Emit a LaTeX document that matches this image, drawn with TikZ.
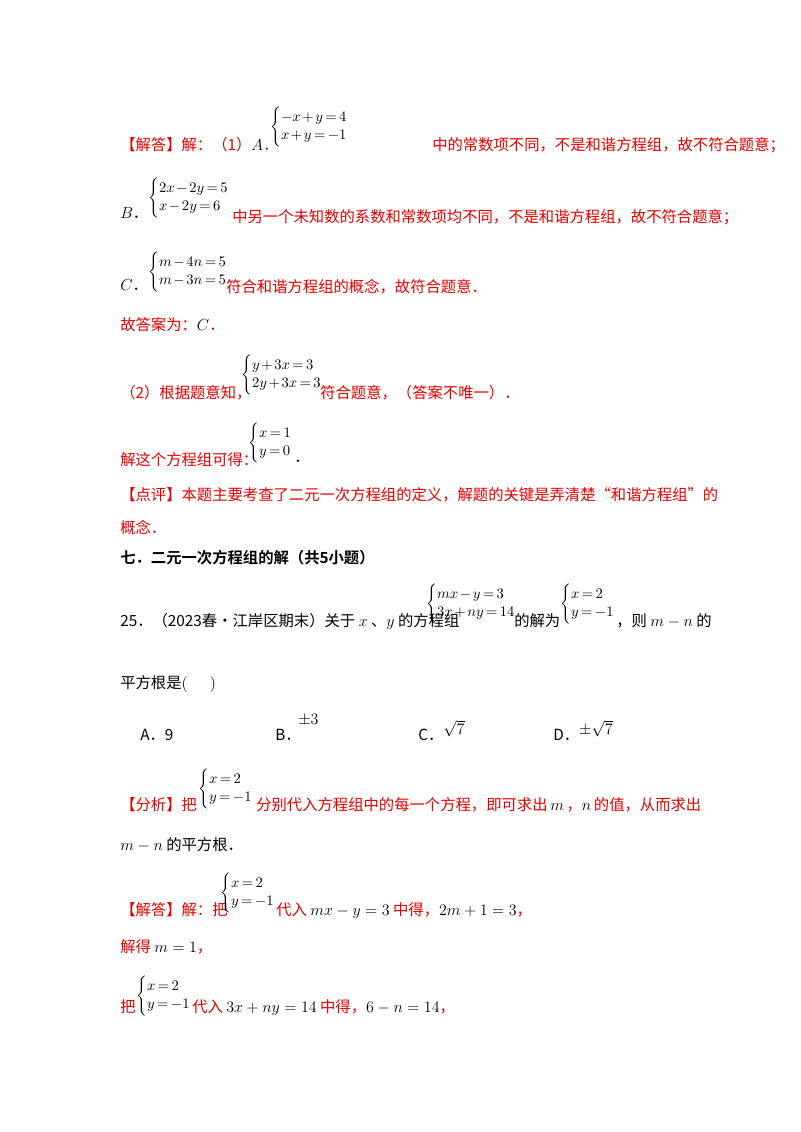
\documentclass[tikz,border=0pt]{standalone}
\usepackage{fontspec}
\setmainfont{Liberation Serif}
\newfontfamily\cjk{Noto Sans CJK SC}
\newfontfamily\cjkb{Noto Sans CJK SC Bold}
\definecolor{ansred}{RGB}{228,0,0}
\newcommand{\mysys}[2]{\medmuskip=2mu\thickmuskip=3mu$\left\{\begin{array}{@{}l@{}}#1\\[1pt]#2\end{array}\right.$}
\tikzset{
 t/.style={anchor=base west,inner sep=0pt,font=\fontsize{11.5}{14}\selectfont\cjk},
 r/.style={t,text=ansred},
 s/.style={anchor=west,inner sep=0pt,font=\fontsize{10.5}{13}\selectfont},
}
\begin{document}
\begin{tikzpicture}[x=0.75pt,y=-0.75pt]
\useasboundingbox (0,0) rectangle (800,1132);
\node[r] (a1) at (120,150) {【解答】解：（1）\textcolor{black}{$A$}．};
\node[s] (a2) at (270,127) {\mysys{-x+y=4}{x+y=-1}};
\node[r] (a3) at (432,150) {中的常数项不同，不是和谐方程组，故不符合题意；};
\node[t] (b1) at (120,218) {$B$．};
\node[s] (b2) at (148,198) {\mysys{2x-2y=5}{x-2y=6}};
\node[r] (b3) at (232,222) {中另一个未知数的系数和常数项均不同，不是和谐方程组，故不符合题意；};
\node[t] (c1) at (120,290) {$C$．};
\node[s] (c2) at (148,272) {\mysys{m-4n=5}{m-3n=5}};
\node[r] (c3) at (226,292) {符合和谐方程组的概念，故符合题意．};
\node[r] (d1) at (120,330) {故答案为：\textcolor{black}{$C$}．};
\node[r] (e1) at (120,398) {（2）根据题意知，};
\node[s] (e2) at (241,375) {\mysys{y+3x=3}{2y+3x=3}};
\node[r] (e3) at (320,398) {符合题意，（答案不唯一）．};
\node[r] (f1) at (120,465) {解这个方程组可得：};
\node[s] (f2) at (248,443) {\mysys{x=1}{y=0}};
\node[t] (f3) at (294,462) {．};
\node[r] (g1) at (120,500) {【点评】本题主要考查了二元一次方程组的定义，解题的关键是弄清楚“和谐方程组”的};
\node[r] (g2) at (120,533) {概念．};
\node[t,font=\fontsize{11.5}{14}\selectfont\cjkb] (h1) at (120,563) {七．二元一次方程组的解（共5小题）};
\node[t] (q1) at (120,626) {25．（2023春•江岸区期末）关于 $x$ 、$y$ 的方程组};
\node[s] (q2) at (426,604) {\mysys{mx-y=3}{3x+ny=14}};
\node[t] (q3) at (514,626) {的解为};
\node[s] (q4) at (560,604) {\mysys{x=2}{y=-1}};
\node[t] (q5) at (616,626) {，则 $m-n$ 的};
\node[t] (q6) at (120,688) {平方根是$($\quad\ \ $)$};
\node[t] (o1) at (140,740) {A．9};
\node[t] (o2) at (275,740) {B．};
\node[t] (o2b) at (298,724) {$\pm3$};
\node[t] (o3) at (418,740) {C．\raisebox{4pt}{$\sqrt7$}};
\node[t] (o4) at (553,740) {D．\raisebox{4pt}{$\pm\sqrt7$}};
\node[r] (p1) at (120,810) {【分析】把};
\node[s] (p2) at (198,789) {\mysys{x=2}{y=-1}};
\node[r] (p3) at (256,810) {分别代入方程组中的每一个方程，即可求出\textcolor{black}{$\,m\,$}，\textcolor{black}{$n\,$}的值，从而求出};
\node[t] (p4) at (120,850) {$m-n$ 的平方根．};
\node[r] (s1) at (120,915) {【解答】解：把};
\node[s] (s2) at (220,893) {\mysys{x=2}{y=-1}};
\node[r] (s3) at (276,915) {代入 \textcolor{black}{$mx-y=3$} 中得，\textcolor{black}{$2m+1=3$}，};
\node[r] (s4) at (120,952) {解得 \textcolor{black}{$m=1$}，};
\node[r] (u1) at (120,1012) {把};
\node[s] (u2) at (136,996) {\mysys{x=2}{y=-1}};
\node[r] (u3) at (192,1012) {代入 \textcolor{black}{$3x+ny=14$} 中得，\textcolor{black}{$6-n=14$}，};
\end{tikzpicture}
\end{document}
